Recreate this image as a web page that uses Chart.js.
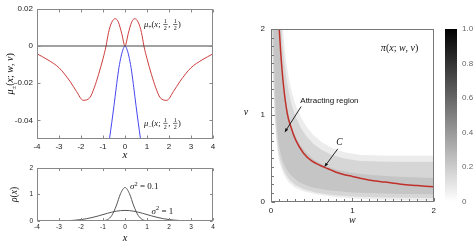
<!DOCTYPE html>
<html>
<head>
<meta charset="utf-8">
<script src="https://cdn.jsdelivr.net/npm/chart.js@4.4.1/dist/chart.umd.min.js"></script>
<style>
html, body { margin: 0; padding: 0; background: #fff; }
#wrap { position: relative; width: 476px; height: 243px; overflow: hidden; }
canvas { position: absolute; }
</style>
</head>
<body>
<div id="wrap">
  <canvas id="mu" width="240" height="160" style="left:0;top:0"></canvas>
  <canvas id="rho" width="240" height="83" style="left:0;top:160px"></canvas>
  <canvas id="pi" width="200" height="243" style="left:240px;top:0"></canvas>
  <canvas id="cbar" width="36" height="243" style="left:440px;top:0"></canvas>
</div>
<script>
// --- data ---
const muX      = [-4, -3.5, -3, -2.5, -2.2, -1.9, -1.6, -1.4, -1.2, -1.0, -0.86, -0.75, -0.6, -0.44, -0.3, -0.15, 0,
                  0.15, 0.3, 0.44, 0.6, 0.75, 0.86, 1.0, 1.2, 1.4, 1.6, 1.9, 2.2, 2.5, 3, 3.5, 4];
const muPlus   = [-0.0042, -0.0075, -0.0117, -0.019, -0.0245, -0.0292, -0.0278, -0.0225, -0.0152, -0.0068, 0, 0.0072, 0.0128, 0.0147, 0.0128, 0.0068, 0,
                  0.0068, 0.0128, 0.0147, 0.0128, 0.0072, 0, -0.0068, -0.0152, -0.0225, -0.0278, -0.0292, -0.0245, -0.019, -0.0117, -0.0075, -0.0042];
const muMinusX = [-0.8, -0.7, -0.6, -0.5, -0.4, -0.3, -0.2, -0.1, 0, 0.1, 0.2, 0.3, 0.4, 0.5, 0.6, 0.7, 0.8];
const muMinus  = [-0.058, -0.0495, -0.041, -0.032, -0.0225, -0.0135, -0.0068, -0.0022, 0, -0.0022, -0.0068, -0.0135, -0.0225, -0.032, -0.041, -0.0495, -0.058];
const muXTicks = [-4, -3, -2, -1, 0, 1, 2, 3, 4];
const muYTicks = [0.02, 0, -0.02, -0.04];

const rhoX      = [-4, -3.5, -3, -2.5, -2, -1.5, -1.2, -1, -0.8, -0.6, -0.4, -0.2, 0, 0.2, 0.4, 0.6, 0.8, 1, 1.2, 1.5, 2, 2.5, 3, 3.5, 4];
const rhoNarrow = [0, 0, 0, 0, 0, 0, 0.0010, 0.009, 0.051, 0.21, 0.565, 1.036, 1.262, 1.036, 0.565, 0.21, 0.051, 0.009, 0.0010, 0, 0, 0, 0, 0, 0];
const rhoWide   = [0.0001, 0.0009, 0.0044, 0.0175, 0.054, 0.13, 0.194, 0.242, 0.29, 0.333, 0.368, 0.391, 0.399, 0.391, 0.368, 0.333, 0.29, 0.242, 0.194, 0.13, 0.054, 0.0175, 0.0044, 0.0009, 0.0001];
const rhoYTicks = [0, 1, 2];

const curveW = [0.095, 0.12, 0.15, 0.2, 0.25, 0.3, 0.4, 0.5, 0.6, 0.7, 0.8, 1.0, 1.2, 1.4, 1.6, 1.8, 2.0];
const curveV = [2.1, 1.72, 1.38, 1.02, 0.85, 0.72, 0.56, 0.47, 0.42, 0.38, 0.34, 0.29, 0.25, 0.225, 0.2, 0.185, 0.17];

// grey band outlines (lower edge out, upper edge back), outer to inner
const outerW = [0.005, 0.015, 0.025, 0.035, 0.045, 0.06, 0.08, 0.1, 0.13, 0.17, 0.22, 0.3, 0.4, 0.55, 0.75, 1.0, 1.3, 1.7, 2.05,
                2.05, 1.5, 1.1, 0.9, 0.75, 0.62, 0.52, 0.44, 0.37, 0.31, 0.26, 0.22, 0.19, 0.165, 0.145];
const outerV = [2.05, 1.7, 1.4, 1.15, 0.95, 0.75, 0.58, 0.47, 0.37, 0.29, 0.22, 0.16, 0.12, 0.085, 0.055, 0.035, 0.022, 0.015, 0.012,
                0.53, 0.53, 0.54, 0.57, 0.62, 0.69, 0.77, 0.86, 0.97, 1.1, 1.25, 1.42, 1.6, 1.8, 2.05];
const mainW  = [0.012, 0.022, 0.032, 0.042, 0.052, 0.068, 0.088, 0.11, 0.14, 0.18, 0.23, 0.3, 0.4, 0.55, 0.75, 1.0, 1.4, 2.05,
                2.05, 1.5, 1.1, 0.9, 0.75, 0.62, 0.52, 0.44, 0.37, 0.31, 0.26, 0.22, 0.19, 0.16, 0.14, 0.125];
const mainV  = [2.05, 1.7, 1.4, 1.15, 0.95, 0.76, 0.6, 0.49, 0.4, 0.32, 0.25, 0.19, 0.145, 0.105, 0.075, 0.057, 0.045, 0.04,
                0.46, 0.46, 0.47, 0.5, 0.54, 0.6, 0.67, 0.75, 0.85, 0.97, 1.1, 1.26, 1.42, 1.65, 1.85, 2.05];
const coreW  = [0.025, 0.035, 0.045, 0.055, 0.066, 0.082, 0.1, 0.125, 0.155, 0.2, 0.26, 0.35, 0.5, 0.7, 1.0, 1.5, 2.05,
                2.05, 1.5, 1.2, 1.0, 0.8, 0.65, 0.52, 0.42, 0.34, 0.28, 0.23, 0.19, 0.16, 0.135, 0.115, 0.1];
const coreV  = [2.05, 1.7, 1.4, 1.15, 0.95, 0.78, 0.64, 0.53, 0.44, 0.36, 0.29, 0.22, 0.165, 0.13, 0.105, 0.09, 0.085,
                0.27, 0.29, 0.31, 0.33, 0.37, 0.42, 0.49, 0.58, 0.68, 0.8, 0.95, 1.13, 1.33, 1.58, 1.85, 2.05];

const piTicks    = [0, 1, 2];
const piMinor    = [0.1, 0.2, 0.3, 0.4, 0.5, 0.6, 0.7, 0.8, 0.9, 1.1, 1.2, 1.3, 1.4, 1.5, 1.6, 1.7, 1.8, 1.9];
const cbarTicks  = [0, 0.2, 0.4, 0.6, 0.8, 1.0];

const SERIF = '"Liberation Serif", "Times New Roman", serif';
Chart.defaults.font.family = '"Liberation Sans", Arial, sans-serif';
Chart.defaults.color = '#222';
Chart.defaults.animation = false;
Chart.defaults.responsive = false;
Chart.defaults.plugins.legend.display = false;
Chart.defaults.plugins.tooltip.enabled = false;

const pts = (xs, ys) => xs.map((x, i) => ({ x: x, y: ys[i] }));

// small math typesetter: ['i',t] italic, ['r',t] roman, ['sub',t], ['sup',t], ['frac',num,den]
function drawMath(ctx, parts, x, y, size, align) {
  const font = (s, it) => (it ? 'italic ' : '') + s + 'px ' + SERIF;
  const fs = size * 0.72;
  const items = parts.map(p => {
    const k = p[0];
    if (k === 'frac') {
      ctx.font = font(fs, false);
      return { k: k, a: p[1], b: p[2], w: Math.max(ctx.measureText(p[1]).width, ctx.measureText(p[2]).width) + 2.5 };
    }
    const s = (k === 'sub' || k === 'sup') ? size * 0.7 : size;
    ctx.font = font(s, k === 'i');
    return { k: k, t: p[1], s: s, w: ctx.measureText(p[1]).width };
  });
  const total = items.reduce((a, it) => a + it.w, 0);
  let cx = align === 'center' ? x - total / 2 : x;
  ctx.textAlign = 'left';
  ctx.textBaseline = 'alphabetic';
  items.forEach(it => {
    if (it.k === 'frac') {
      const bar = y - size * 0.28;
      ctx.font = font(fs, false);
      ctx.textAlign = 'center';
      ctx.fillText(it.a, cx + it.w / 2, bar - 1.2);
      ctx.fillText(it.b, cx + it.w / 2, bar + fs * 0.72 + 1.2);
      ctx.textAlign = 'left';
      ctx.fillRect(cx + 0.6, bar - 0.3, it.w - 1.2, 0.6);
    } else {
      ctx.font = font(it.s, it.k === 'i');
      const dy = it.k === 'sub' ? size * 0.25 : it.k === 'sup' ? -size * 0.4 : 0;
      ctx.fillText(it.t, cx, y + dy);
    }
    cx += it.w;
  });
}

function arrow(ctx, x1, y1, x2, y2) {
  const ang = Math.atan2(y2 - y1, x2 - x1), h = 4.5;
  ctx.beginPath();
  ctx.moveTo(x1, y1);
  ctx.lineTo(x2 - Math.cos(ang) * 2, y2 - Math.sin(ang) * 2);
  ctx.stroke();
  ctx.beginPath();
  ctx.moveTo(x2, y2);
  ctx.lineTo(x2 - h * Math.cos(ang - 0.35), y2 - h * Math.sin(ang - 0.35));
  ctx.lineTo(x2 - h * Math.cos(ang + 0.35), y2 - h * Math.sin(ang + 0.35));
  ctx.closePath();
  ctx.fill();
}

// frame with inward ticks (gnuplot look)
const frame = {
  id: 'frame',
  afterDatasetsDraw(chart, args, o) {
    if (!o.on) return;
    const { ctx, chartArea: a, scales: { x, y } } = chart;
    const L = Math.round(a.left) + 0.5, R = Math.round(a.right) - 0.5;
    const T = Math.round(a.top) + 0.5, B = Math.round(a.bottom) - 0.5;
    ctx.save();
    ctx.strokeStyle = o.color;
    ctx.lineWidth = 1;
    ctx.beginPath();
    const xt = (vals, len) => vals.forEach(v => {
      const p = Math.round(x.getPixelForValue(v)) + 0.5;
      ctx.moveTo(p, B); ctx.lineTo(p, B - len);
      if (o.mirror) { ctx.moveTo(p, T); ctx.lineTo(p, T + len); }
    });
    const yt = (vals, len) => vals.forEach(v => {
      const p = Math.round(y.getPixelForValue(v)) + 0.5;
      ctx.moveTo(L, p); ctx.lineTo(L + len, p);
      if (o.mirror) { ctx.moveTo(R, p); ctx.lineTo(R - len, p); }
    });
    xt(o.xMajor || [], o.major);
    yt(o.yMajor || [], o.major);
    xt(o.xMinor || [], o.minor);
    yt(o.yMinor || [], o.minor);
    ctx.stroke();
    ctx.strokeRect(L, T, R - L, B - T);
    ctx.restore();
  }
};

// labels, arrows, axis titles
const notes = {
  id: 'notes',
  afterDraw(chart, args, o) {
    if (!o.on) return;
    const { ctx, chartArea: a, scales: { x, y } } = chart;
    ctx.save();
    ctx.fillStyle = '#111';
    ctx.strokeStyle = '#111';
    ctx.lineWidth = 0.9;
    (o.math || []).forEach(t => drawMath(ctx, t.parts, x.getPixelForValue(t.at[0]), y.getPixelForValue(t.at[1]), t.size, t.align));
    (o.plain || []).forEach(t => {
      ctx.font = t.size + 'px "Liberation Sans", Arial, sans-serif';
      ctx.textAlign = 'left';
      ctx.textBaseline = 'middle';
      ctx.fillText(t.text, x.getPixelForValue(t.at[0]), y.getPixelForValue(t.at[1]));
    });
    (o.arrows || []).forEach(r => arrow(ctx, x.getPixelForValue(r[0]), y.getPixelForValue(r[1]), x.getPixelForValue(r[2]), y.getPixelForValue(r[3])));
    if (o.xTitle) drawMath(ctx, o.xTitle.parts, (a.left + a.right) / 2, o.xTitle.base, o.xTitle.size, 'center');
    if (o.yTitle) {
      const t = o.yTitle;
      ctx.translate(t.base, (a.top + a.bottom) / 2);
      if (t.rotate) ctx.rotate(-Math.PI / 2);
      drawMath(ctx, t.parts, 0, 0, t.size, 'center');
    }
    ctx.restore();
  }
};

Chart.register(frame, notes);

const fixedTicks = list => s => { s.ticks = list.map(v => ({ value: v })); };
const zeroFmt = d => v => (v === 0 ? '0' : v.toFixed(d));

const muPlusLabel  = [['i', 'μ'], ['sub', '+'], ['r', '('], ['i', 'x'], ['r', '; '], ['frac', '1', '2'], ['r', ', '], ['frac', '1', '2'], ['r', ')']];
const muMinusLabel = [['i', 'μ'], ['sub', '−'], ['r', '('], ['i', 'x'], ['r', '; '], ['frac', '1', '2'], ['r', ', '], ['frac', '1', '2'], ['r', ')']];

// --- top left: mu_plus / mu_minus ---
new Chart(document.getElementById('mu'), {
  type: 'scatter',
  data: {
    datasets: [
      { data: pts([-4, 4], [0, 0]), showLine: true, borderColor: '#444', borderWidth: 1.2, pointRadius: 0 },
      { data: pts(muX, muPlus), showLine: true, borderColor: '#cc3d3d', borderWidth: 1, pointRadius: 0, cubicInterpolationMode: 'monotone' },
      { data: pts(muMinusX, muMinus), showLine: true, borderColor: '#4646f0', borderWidth: 1, pointRadius: 0, cubicInterpolationMode: 'monotone' }
    ]
  },
  options: {
    layout: { padding: { left: 0, right: 27, top: 7, bottom: 0 } },
    scales: {
      x: {
        type: 'linear', min: -4, max: 4,
        afterBuildTicks: fixedTicks(muXTicks),
        afterFit: s => { s.height = 21; },
        grid: { display: false, drawTicks: false }, border: { display: false },
        ticks: { font: { size: 8 }, padding: 3, callback: v => String(v) }
      },
      y: {
        min: -0.05, max: 0.02,
        afterBuildTicks: fixedTicks(muYTicks),
        afterFit: s => { s.width = 37; },
        grid: { display: false, drawTicks: false }, border: { display: false },
        ticks: { font: { size: 8 }, padding: 4, callback: zeroFmt(2) }
      }
    },
    plugins: {
      frame: { on: true, color: '#888', mirror: true, major: 3, xMajor: muXTicks, yMajor: muYTicks },
      notes: {
        on: true,
        math: [
          { parts: muPlusLabel, at: [0.86, 0.0102], size: 8.5, align: 'left' },
          { parts: muMinusLabel, at: [0.86, -0.0428], size: 8.5, align: 'left' }
        ],
        xTitle: { parts: [['i', 'x']], base: 158, size: 11 },
        yTitle: { parts: [['i', 'μ'], ['sub', '±'], ['r', '('], ['i', 'x'], ['r', '; '], ['i', 'w'], ['r', ', '], ['i', 'v'], ['r', ')']], base: 13, size: 10, rotate: true }
      }
    }
  }
});

// --- bottom left: rho(x) ---
new Chart(document.getElementById('rho'), {
  type: 'scatter',
  data: {
    datasets: [
      { data: pts(rhoX, rhoNarrow), showLine: true, borderColor: '#555', borderWidth: 1, pointRadius: 0, cubicInterpolationMode: 'monotone' },
      { data: pts(rhoX, rhoWide), showLine: true, borderColor: '#555', borderWidth: 1, pointRadius: 0, cubicInterpolationMode: 'monotone' }
    ]
  },
  options: {
    layout: { padding: { left: 0, right: 27, top: 7, bottom: 0 } },
    scales: {
      x: {
        type: 'linear', min: -4, max: 4,
        afterBuildTicks: fixedTicks(muXTicks),
        afterFit: s => { s.height = 22; },
        grid: { display: false, drawTicks: false }, border: { display: false },
        ticks: { font: { size: 6.5 }, padding: 2, callback: v => String(v) }
      },
      y: {
        min: 0, max: 2,
        afterBuildTicks: fixedTicks(rhoYTicks),
        afterFit: s => { s.width = 37; },
        grid: { display: false, drawTicks: false }, border: { display: false },
        ticks: { font: { size: 6.5 }, padding: 4, callback: v => String(v) }
      }
    },
    plugins: {
      frame: { on: true, color: '#888', mirror: true, major: 2.5, xMajor: muXTicks, yMajor: rhoYTicks },
      notes: {
        on: true,
        math: [
          { parts: [['i', 'σ'], ['sup', '2'], ['r', ' = 0.1']], at: [0.23, 1.2], size: 9, align: 'left' },
          { parts: [['i', 'σ'], ['sup', '2'], ['r', ' = 1']], at: [1.21, 0.27], size: 9, align: 'left' }
        ],
        xTitle: { parts: [['i', 'x']], base: 80.5, size: 10.5 },
        yTitle: { parts: [['i', 'ρ'], ['r', '('], ['i', 'x'], ['r', ')']], base: 17, size: 9.5, rotate: true }
      }
    }
  }
});

// --- right: pi(x; w, v) density with curve C ---
const band = (xs, ys, color, order) => ({
  data: pts(xs, ys), showLine: true, borderWidth: 0, pointRadius: 0, tension: 0,
  backgroundColor: color, fill: 'shape', order: order
});

new Chart(document.getElementById('pi'), {
  type: 'scatter',
  data: {
    datasets: [
      { data: pts(curveW, curveV), showLine: true, borderColor: '#c0302a', borderWidth: 1.5, pointRadius: 0, cubicInterpolationMode: 'monotone', order: 0 },
      band(coreW, coreV, '#c5c5c5', 1),
      band(mainW, mainV, '#d6d6d6', 2),
      band(outerW, outerV, '#ececec', 3)
    ]
  },
  options: {
    layout: { padding: { left: 0, right: 5, top: 29, bottom: 0 } },
    scales: {
      x: {
        type: 'linear', min: 0, max: 2,
        afterBuildTicks: fixedTicks(piTicks),
        afterFit: s => { s.height = 41.5; },
        grid: { display: false, drawTicks: false }, border: { display: false },
        ticks: { font: { size: 8 }, padding: 4, callback: v => String(v) }
      },
      y: {
        min: 0, max: 2,
        afterBuildTicks: fixedTicks(piTicks),
        afterFit: s => { s.width = 31; },
        grid: { display: false, drawTicks: false }, border: { display: false },
        ticks: { font: { size: 8 }, padding: 6, callback: v => String(v) }
      }
    },
    plugins: {
      frame: { on: true, color: '#777', mirror: false, major: 3.5, minor: 2.5, xMajor: piTicks, yMajor: piTicks, xMinor: piMinor, yMinor: piMinor },
      notes: {
        on: true,
        math: [
          { parts: [['i', 'π'], ['r', '('], ['i', 'x'], ['r', '; '], ['i', 'w'], ['r', ', '], ['i', 'v'], ['r', ')']], at: [1.35, 1.745], size: 10, align: 'left' },
          { parts: [['i', 'C']], at: [0.84, 0.655], size: 9.5, align: 'center' }
        ],
        plain: [{ text: 'Attracting region', at: [0.36, 1.17], size: 8 }],
        arrows: [[0.37, 1.1, 0.167, 0.8], [0.82, 0.61, 0.655, 0.4]],
        xTitle: { parts: [['i', 'w']], base: 223, size: 10 },
        yTitle: { parts: [['i', 'v']], base: 6, size: 10, rotate: false }
      }
    }
  }
});

// --- colour bar ---
new Chart(document.getElementById('cbar'), {
  type: 'bar',
  data: {
    labels: ['π'],
    datasets: [{
      data: [[0, 1]],
      barPercentage: 1, categoryPercentage: 1, borderWidth: 0,
      backgroundColor: c => {
        const a = c.chart.chartArea;
        if (!a) return '#888';
        const g = c.chart.ctx.createLinearGradient(0, a.bottom, 0, a.top);
        g.addColorStop(0, '#ffffff');
        g.addColorStop(1, '#000000');
        return g;
      }
    }]
  },
  options: {
    layout: { padding: { left: 5, right: 0, top: 29, bottom: 41.5 } },
    scales: {
      x: { display: false },
      y: {
        position: 'right', min: 0, max: 1,
        afterBuildTicks: fixedTicks(cbarTicks),
        afterFit: s => { s.width = 19; },
        grid: { display: false, drawTicks: false }, border: { display: false },
        ticks: { font: { size: 8 }, color: '#666', padding: 5, callback: zeroFmt(1) }
      }
    }
  }
});
</script>
</body>
</html>
